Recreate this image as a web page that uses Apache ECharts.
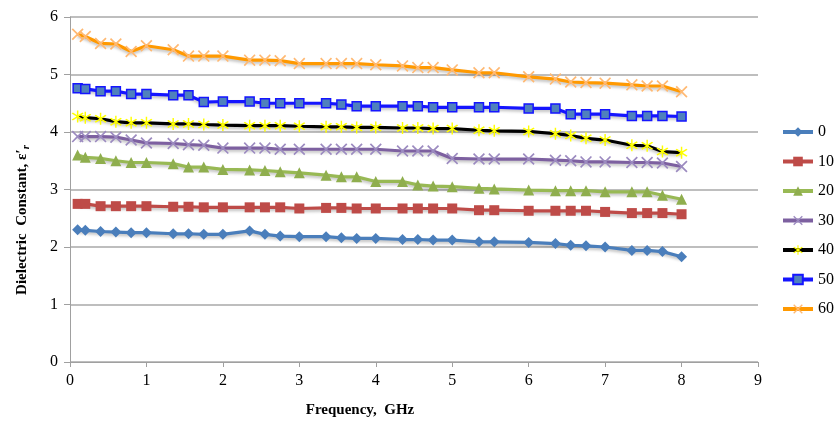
<!DOCTYPE html>
<html><head><meta charset="utf-8">
<script src="https://cdn.jsdelivr.net/npm/echarts@6/dist/echarts.min.js"></script>
<style>html,body{margin:0;padding:0;background:#fff}#c{width:838px;height:423px}</style>
</head><body><div id="c"></div>
<script>
const freq = [0.1,0.2,0.4,0.6,0.8,1.0,1.35,1.55,1.75,2.0,2.35,2.55,2.75,3.0,3.35,3.55,3.75,4.0,4.35,4.55,4.75,5.0,5.35,5.55,6.0,6.35,6.55,6.75,7.0,7.35,7.55,7.75,8.0];
const s0  = [2.30,2.29,2.27,2.26,2.25,2.25,2.23,2.23,2.22,2.22,2.28,2.22,2.19,2.18,2.18,2.16,2.15,2.15,2.13,2.13,2.12,2.12,2.09,2.09,2.08,2.06,2.03,2.02,2.00,1.94,1.94,1.92,1.83];
const s10 = [2.75,2.75,2.71,2.71,2.71,2.71,2.70,2.70,2.69,2.69,2.69,2.69,2.69,2.67,2.68,2.68,2.67,2.67,2.67,2.67,2.67,2.67,2.64,2.64,2.63,2.63,2.63,2.63,2.61,2.59,2.59,2.59,2.57];
const s20 = [3.60,3.56,3.54,3.50,3.47,3.47,3.45,3.39,3.39,3.35,3.34,3.33,3.31,3.29,3.25,3.22,3.22,3.14,3.14,3.08,3.06,3.05,3.02,3.01,2.99,2.98,2.98,2.98,2.96,2.96,2.96,2.90,2.83];
const s30 = [3.92,3.92,3.92,3.91,3.86,3.81,3.80,3.78,3.77,3.72,3.72,3.72,3.70,3.70,3.70,3.70,3.70,3.70,3.67,3.67,3.67,3.54,3.53,3.53,3.53,3.51,3.50,3.48,3.48,3.47,3.47,3.46,3.40];
const s40 = [4.27,4.25,4.23,4.18,4.16,4.16,4.14,4.14,4.13,4.12,4.11,4.11,4.11,4.10,4.09,4.09,4.08,4.08,4.07,4.07,4.06,4.06,4.03,4.02,4.01,3.97,3.94,3.89,3.86,3.77,3.76,3.66,3.64];
const s50 = [4.76,4.75,4.71,4.71,4.66,4.66,4.64,4.64,4.52,4.53,4.53,4.50,4.50,4.50,4.50,4.48,4.45,4.45,4.45,4.45,4.43,4.43,4.43,4.43,4.41,4.41,4.31,4.31,4.31,4.28,4.28,4.28,4.27];
const s60 = [5.70,5.66,5.54,5.53,5.40,5.50,5.43,5.32,5.32,5.32,5.25,5.25,5.24,5.19,5.19,5.19,5.19,5.17,5.15,5.12,5.12,5.08,5.03,5.03,4.96,4.92,4.87,4.86,4.85,4.82,4.80,4.80,4.70];
const seriesNames = ['0','10','20','30','40','50','60'];
const xTicks = [0,1,2,3,4,5,6,7,8,9];
const yTicks = [0,1,2,3,4,5,6];

const X = 'path://M1,0 L5,4 L9,0 L10,1 L6,5 L10,9 L9,10 L5,6 L1,10 L0,9 L4,5 L0,1 Z';
const STAR = 'path://M1,1 L5,4 L9,1 L10,2 L6,5 L10,8 L9,9 L5,6 L1,9 L0,8 L4,5 L0,2 Z M4.4,-1 L5.6,-1 L5.6,11 L4.4,11 Z';
const styles = [
  {line:'#4A7EBB', item:'#4A7EBB', sym:'diamond', size:11},
  {line:'#BE4B48', item:'#BE4B48', sym:'rect', size:10},
  {line:'#98B954', item:'#8FAE4E', sym:'triangle', size:11},
  {line:'#7D60A0', item:'#9C8BC0', sym:X, size:12},
  {line:'#000000', item:'#FFFF00', sym:STAR, size:12},
  {line:'#1515FF', item:'#4F81BD', sym:'rect', size:9, border:'#1515FF'},
  {line:'#FF9900', item:'#FFB973', sym:X, size:12}
];
const allData = [s0,s10,s20,s30,s40,s50,s60];
const font = 'Liberation Serif';

const series = allData.map((arr,i)=>({
  name: seriesNames[i], type:'line',
  data: arr.map((v,j)=>[freq[j], v]),
  symbol: styles[i].sym, symbolSize: styles[i].size,
  showAllSymbol:true,
  lineStyle:{color:styles[i].line, width:3.2, shadowColor:'rgba(0,0,0,0.25)', shadowBlur:3, shadowOffsetY:2},
  itemStyle:{color:styles[i].item, borderColor:styles[i].border||styles[i].item, borderWidth:styles[i].border?1.5:0},
  emphasis:{disabled:true}, animation:false
}));

const chart = echarts.init(document.getElementById('c'));
chart.setOption({
  animation:false,
  grid:{left:70, right:80, top:17, bottom:61, containLabel:false},
  xAxis:{type:'value', min:xTicks[0], max:xTicks[xTicks.length-1], interval:1,
    axisLine:{show:true, lineStyle:{color:'#A0A0A0', width:1}},
    axisTick:{show:true, length:5, lineStyle:{color:'#A0A0A0'}},
    axisLabel:{color:'#000', fontFamily:font, fontSize:16, margin:11},
    splitLine:{show:false}},
  yAxis:{type:'value', min:yTicks[0], max:yTicks[yTicks.length-1], interval:1,
    axisLine:{show:true, lineStyle:{color:'#A0A0A0', width:1}},
    axisTick:{show:true, length:6, lineStyle:{color:'#A0A0A0'}},
    axisLabel:{color:'#000', fontFamily:font, fontSize:16, margin:12},
    splitLine:{show:true, lineStyle:{color:'#A8A8A8', width:1.5}}},
  legend:{orient:'vertical', left:776, top:119, itemWidth:30, itemHeight:12, itemGap:13.5,
    lineStyle:{width:4},
    textStyle:{color:'#000', fontFamily:font, fontSize:16},
    data: seriesNames},
  graphic:[
    {type:'text', x:360, y:410, style:{text:'Frequency,  GHz', fill:'#000', font:'bold 15px "Liberation Serif"', textAlign:'center', textVerticalAlign:'middle'}},
    {type:'text', x:22, y:220, rotation:Math.PI/2, style:{text:'Dielectric  Constant, ε′{s|r}', fill:'#000', font:'bold 15px "Liberation Serif"', textAlign:'center', textVerticalAlign:'middle', rich:{s:{fontFamily:font, fontWeight:'bold', fontStyle:'italic', fontSize:11, verticalAlign:'bottom', padding:[8,0,0,0]}}}}
  ],
  series: series
});
</script></body></html>
